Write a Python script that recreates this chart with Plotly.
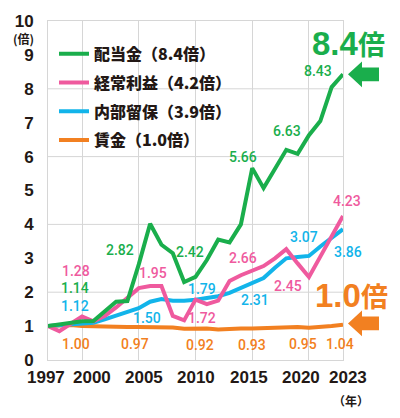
import plotly.graph_objects as go

# ---------------- data ----------------
years = list(range(1997, 2024))

dividends = [1.00, 1.04, 1.08, 1.14, 1.15, 1.42, 1.72, 1.74, 2.82, 4.02,
             3.40, 3.15, 2.30, 2.45, 2.95, 3.55, 3.47, 4.00, 5.66, 5.07,
             5.63, 6.20, 6.08, 6.63, 7.05, 8.05, 8.43]
profits = [1.00, 0.85, 1.07, 1.28, 1.14, 1.30, 1.55, 1.85, 2.12, 2.18,
           2.18, 1.30, 1.17, 1.78, 1.65, 1.75, 2.33, 2.50, 2.64, 2.77,
           3.00, 3.27, 2.85, 2.45, 3.05, 3.65, 4.25]
retained = [1.00, 1.02, 1.05, 1.08, 1.10, 1.20, 1.30, 1.40, 1.53, 1.72,
            1.80, 1.75, 1.75, 1.78, 1.82, 1.88, 1.98, 2.12, 2.27, 2.42,
            2.72, 3.00, 3.04, 3.07, 3.35, 3.60, 3.86]
wages = [1.00, 1.01, 1.03, 1.00, 0.99, 0.97, 0.97, 0.97, 0.97, 0.97,
         0.97, 0.96, 0.92, 0.92, 0.93, 0.90, 0.92, 0.93, 0.93, 0.94,
         0.94, 0.95, 0.97, 0.95, 0.97, 1.00, 1.04]

series_names = ["配当金（8.4倍）", "経常利益（4.2倍）", "内部留保（3.9倍）", "賃金（1.0倍）"]

dividend_labels = ["1.14", "2.82", "2.42", "5.66", "6.63", "8.43"]
profit_labels = ["1.28", "1.95", "1.72", "2.66", "2.45", "4.23"]
retained_labels = ["1.12", "1.50", "1.79", "2.31", "3.07", "3.86"]
wage_labels = ["1.00", "0.97", "0.92", "0.93", "0.95", "1.04"]

x_tick_vals = [1997, 2000, 2005, 2010, 2015, 2020, 2023]
y_tick_vals = list(range(0, 11))
y_grid_vals = [2, 4, 6, 8]

# ---------------- styles / layout ----------------
GREEN = "#1aae4c"
PINK = "#ef5a9e"
BLUE = "#12b4ea"
ORANGE = "#f28021"
DARK = "#231815"
GRID = "#d6d6d6"

W_FIG, H_FIG = 400, 418
L, R, T, B = 48, 57, 17, 58
PW = W_FIG - L - R
PH = H_FIG - T - B


def px(x, y):
    """pixel -> paper coordinates"""
    return (x - L) / PW, (T + PH - y) / PH


fig = go.Figure()

draw_order = [
    (wages, ORANGE, series_names[3], 4),
    (retained, BLUE, series_names[2], 3),
    (profits, PINK, series_names[1], 2),
    (dividends, GREEN, series_names[0], 1),
]
for vals, col, name, rank in draw_order:
    fig.add_trace(go.Scatter(
        x=years, y=vals, mode="lines", name=name, legendrank=rank,
        legendgroup=f"g{rank}",
        line=dict(color=col, width=4),
        hoverinfo="skip",
    ))

shapes = []
for gv in y_grid_vals:
    shapes.append(dict(type="line", xref="paper", yref="y", x0=0, x1=1,
                       y0=gv, y1=gv, line=dict(color=GRID, width=1),
                       layer="below"))


def arrow(cy, color):
    pts = [(348, cy), (362, cy - 13), (362, cy - 7), (379, cy - 7),
           (379, cy + 7), (362, cy + 7), (362, cy + 13)]
    conv = [px(a, b) for a, b in pts]
    path = "M" + " L".join(f"{a:.4f},{b:.4f}" for a, b in conv) + " Z"
    return dict(type="path", xref="paper", yref="paper", path=path,
                fillcolor=color, line=dict(width=0), layer="above")


shapes.append(arrow(71, GREEN))
shapes.append(arrow(323, ORANGE))

annotations = []
label_font = dict(family="Roboto, Liberation Sans, sans-serif", size=14, weight=500)

label_sets = [
    (dividend_labels, GREEN, [(75, 287.5), (120, 249), (190, 251), (243, 155), (287, 128), (318, 68)]),
    (profit_labels, PINK, [(76, 270), (153, 272), (202, 318), (243, 257), (288, 285), (347, 199)]),
    (retained_labels, BLUE, [(75, 305.5), (147, 318), (202, 288), (255, 299), (304, 236), (348, 251)]),
    (wage_labels, ORANGE, [(76, 344), (135, 344), (200, 345), (252, 345), (303, 344), (340, 344)]),
]
for texts, col, poss in label_sets:
    for t, (a, b) in zip(texts, poss):
        xx, yy = px(a, b)
        annotations.append(dict(text=t, x=xx, y=yy, xref="paper", yref="paper",
                                showarrow=False, xanchor="center", yanchor="middle",
                                font=dict(color=col, **label_font)))

big_font = "Liberation Sans, Arial, sans-serif"
for txt, col, (a, b) in [("8.4", GREEN, (348, 40)), ("1.0", ORANGE, (351, 295))]:
    xx, yy = px(a, b)
    annotations.append(dict(
        text=f"{txt}<span style='font-size:27px;font-family:Noto Sans CJK JP'>倍</span>",
        x=xx, y=yy, xref="paper", yref="paper", showarrow=False,
        xanchor="center", yanchor="middle",
        font=dict(color=col, size=33, family=big_font, weight="bold")))

for txt, (a, b), sz in [("(倍)", (23, 35), 12), ("（年）", (351, 401), 12)]:
    xx, yy = px(a, b)
    annotations.append(dict(text=txt, x=xx, y=yy, xref="paper", yref="paper",
                            showarrow=False, xanchor="center", yanchor="middle",
                            font=dict(color=DARK, size=sz, weight="bold",
                                      family="Noto Sans CJK JP, sans-serif")))

tick_font = dict(family="Liberation Sans, Arial, sans-serif", size=17,
                 color=DARK, weight="bold")

# x tick labels (spread slightly so neighbours do not collide, as in the original)
x_label_shift = [-2, 10, 5, 0, -3, -8, 5]
_, xl_y = px(0, 378)
for v, s in zip(x_tick_vals, x_label_shift):
    annotations.append(dict(text=str(v), x=v, y=xl_y, xref="x", yref="paper",
                            xshift=s, showarrow=False, xanchor="center",
                            yanchor="middle", font=tick_font))

lx, ly = px(54, 33)
fig.update_layout(
    width=W_FIG, height=H_FIG,
    margin=dict(l=L, r=R, t=T, b=B, pad=0),
    paper_bgcolor="white", plot_bgcolor="white",
    showlegend=True,
    legend=dict(x=lx, y=ly, xanchor="left", yanchor="top",
                traceorder="grouped", tracegroupgap=5,
                bgcolor="rgba(0,0,0,0)", borderwidth=0,
                font=dict(family="Noto Sans CJK JP, sans-serif", size=16,
                          color=DARK, weight=900)),
    xaxis=dict(range=[1997, 2023], tickvals=x_tick_vals,
               showticklabels=False,
               showgrid=True, gridcolor=GRID, gridwidth=1,
               showline=True, linecolor=GRID, linewidth=1, mirror=True,
               zeroline=False, ticks="", fixedrange=True),
    yaxis=dict(range=[0, 10], tickvals=y_tick_vals,
               showgrid=False, showline=True, linecolor=GRID, linewidth=1,
               mirror=True, zeroline=False, ticks="", tickfont=tick_font,
               ticklabelstandoff=10, fixedrange=True),
    shapes=shapes,
    annotations=annotations,
)

fig.write_html("out.html",
               config={"displayModeBar": False},
               post_script="document.body.style.margin='0';document.body.style.padding='0';")
